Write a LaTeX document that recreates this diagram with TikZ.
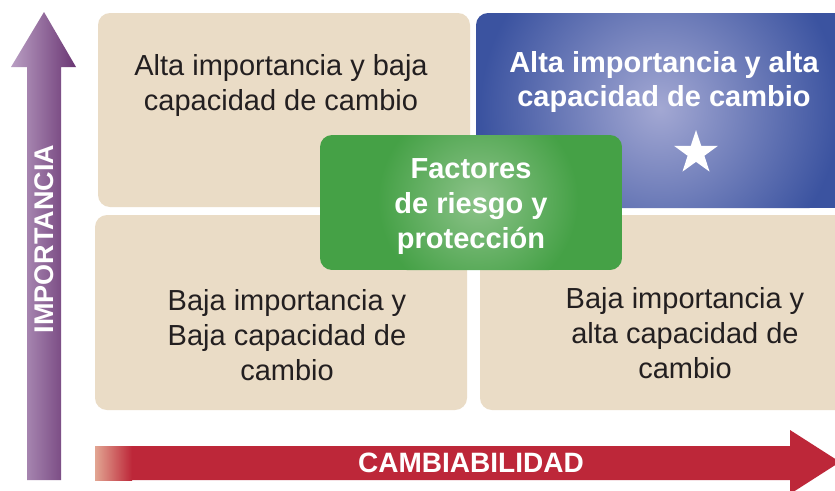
\documentclass[tikz,border=0pt]{standalone}
\usepackage{fontspec}
\setmainfont{Liberation Sans}
\usetikzlibrary{shapes.geometric}
\definecolor{boxtan}{HTML}{EADCC6}
\definecolor{boxblue}{HTML}{3B53A0}
\definecolor{glowblue}{HTML}{A3A8D3}
\definecolor{boxgreen}{HTML}{45A146}
\definecolor{glowgreen}{HTML}{8DC38A}
\definecolor{textgray}{HTML}{231F20}
\definecolor{arrowred}{HTML}{BD2739}
\definecolor{fadered}{HTML}{E2A592}
\definecolor{lightpurple}{HTML}{B99EC3}
\definecolor{darkpurple}{HTML}{6A3673}

\begin{document}
\begin{tikzpicture}[x=1pt,y=-1pt,
  quadbox/.style={fill=boxtan, rounded corners=12pt},
  quadtext/.style={text=textgray, align=center, font=\fontsize{29}{35}\selectfont},
  hightext/.style={text=white, align=center, font=\bfseries\fontsize{29}{35}\selectfont},
  axistext/.style={text=white, font=\bfseries\fontsize{27}{32}\selectfont}]
\useasboundingbox[fill=white] (0,0) rectangle (835,490);
\begin{scope}
\clip (0,0) rectangle (835,490);
% axes
\shade[left color=lightpurple, right color=darkpurple] (27,480) -- (27,67) -- (11,67) -- (44,12) -- (76,67) -- (61,67) -- (61,480) -- cycle;
\fill[arrowred] (95,446) -- (790,446) -- (790,430) -- (840,462) -- (790,494) -- (790,480) -- (95,480) -- cycle;
\shade[left color=fadered, right color=arrowred] (95,446) rectangle (132,480);
% quadrants
\fill[quadbox] (98,13) rectangle (470,207);
\fill[quadbox] (95,215) rectangle (467,410);
\fill[quadbox] (480,215) rectangle (860,410);
\begin{scope}
\clip[rounded corners=12pt] (476,13) rectangle (860,208);
\fill[boxblue] (476,13) rectangle (860,208);
\shade[inner color=glowblue, outer color=boxblue] (660,108) circle (180pt);
\end{scope}
% centre box
\begin{scope}
\clip[rounded corners=12pt] (320,135) rectangle (622,270);
\fill[boxgreen] (320,135) rectangle (622,270);
\shade[inner color=glowgreen, outer color=boxgreen] (478,200) circle (100pt);
\end{scope}
\end{scope}
\node[star, star points=5, star point ratio=2.6, fill=white, minimum size=46pt, inner sep=0pt] (star) at (696,153) {};
% texts
\node[quadtext] (highlow) at (281,85) {Alta importancia y baja\\capacidad de cambio};
\node[hightext] (highhigh) at (664,82) {Alta importancia y alta\\capacidad de cambio};
\node[hightext] (factors) at (471,207) {Factores\\de riesgo y\\protección};
\node[quadtext] (lowlow) at (287,335) {Baja importancia y\\Baja capacidad de\\cambio};
\node[quadtext] (lowhigh) at (685,333) {Baja importancia y\\alta capacidad de\\cambio};
\node[axistext, rotate=90] (yaxis) at (44,239) {IMPORTANCIA};
\node[axistext, font=\bfseries\fontsize{28}{32}\selectfont] (xaxis) at (471,463) {CAMBIABILIDAD};
\end{tikzpicture}
\end{document}
